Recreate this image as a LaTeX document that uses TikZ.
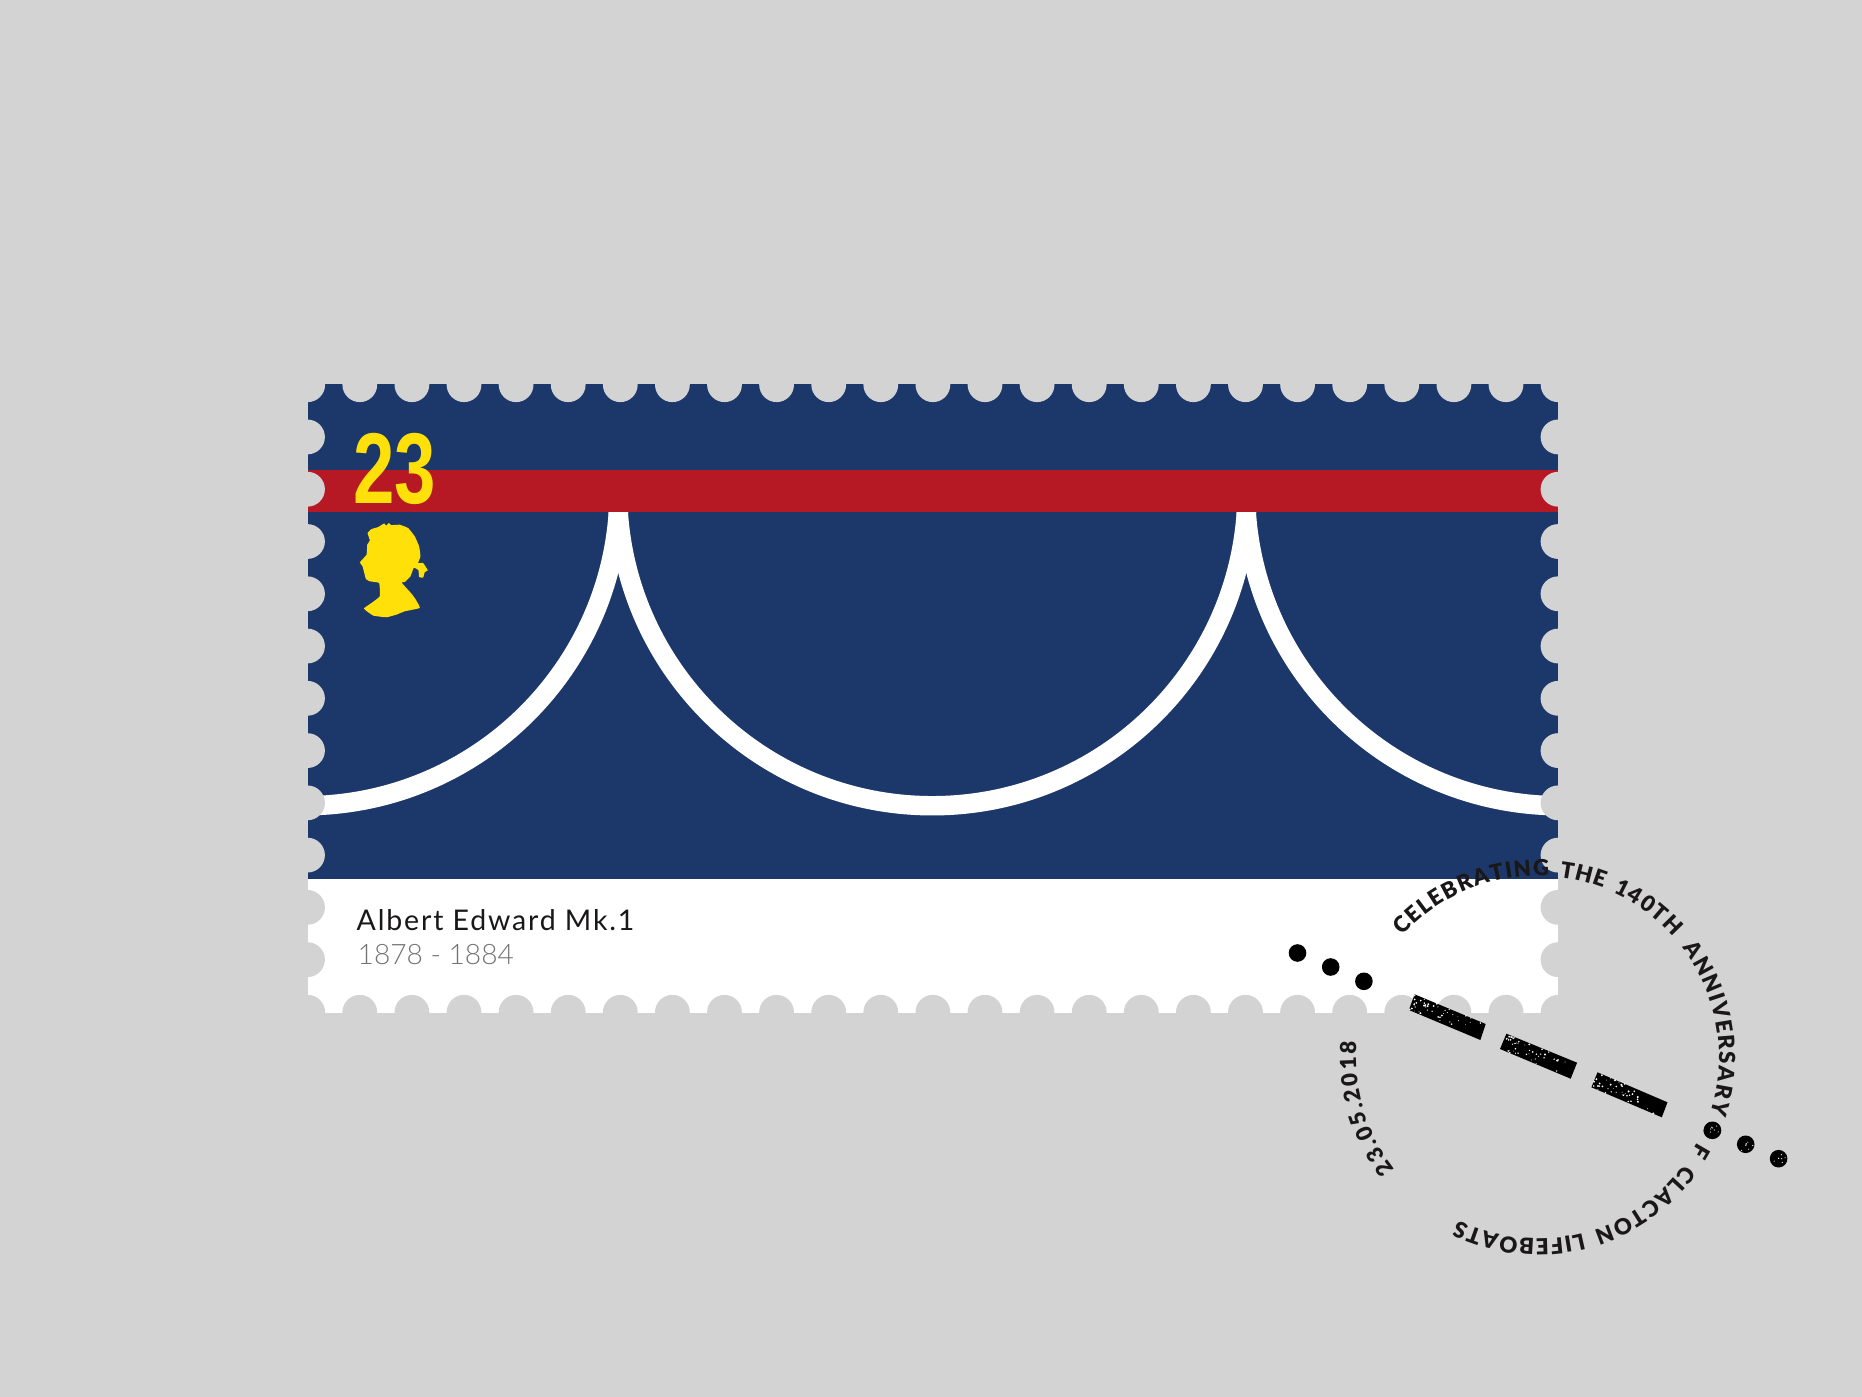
\documentclass[tikz,border=0pt]{standalone}
\usepackage{fontspec}
\setmainfont{Lato}
\newfontfamily\valuefont{Liberation Sans}
\newfontfamily\namefont[LetterSpace=6.5]{Lato}
\newfontfamily\yearsfont{Lato Light}
\newfontfamily\ringfamily{Lato Black}
\usetikzlibrary{decorations.text}
\definecolor{paper}{HTML}{D3D3D3}
\definecolor{navy}{HTML}{1C386B}
\definecolor{stripe}{HTML}{B71924}
\definecolor{royal}{HTML}{FFE009}
\definecolor{ink}{HTML}{1A1718}
\tikzset{
	hole/.style={fill=paper},
	rope/.style={draw=white,line width=5.53pt},
	stampdot/.style={fill=black},
	speck/.style={fill=white},
	ringtext/.style={decorate,decoration={text along path,text align=fit to path,text color=ink,text={#1}}}
}
\newcommand{\ringfont}{\ringfamily\fontsize{6.3}{7}\selectfont}
\begin{document}
\begin{tikzpicture}[x=0.01cm,y=-0.01cm]
	%background
	\fill[paper] (0,0) rectangle (1862,1397);
	
	%stamp body
	\fill[white] (307.5,384) rectangle (1558,1012.7);
	\fill[navy] (307.5,384) rectangle (1558,879.3);
	
	%scallops
	\draw[rope] (619.05,491) arc[start angle=0,end angle=90,radius=314.75];
	\draw[rope] (1247.05,491) arc[start angle=0,end angle=180,radius=314.75];
	\draw[rope] (1245.55,491) arc[start angle=180,end angle=90,radius=314.75];
	
	%red band
	\fill[stripe] (307.5,470) rectangle (1558,512);
	
	%perforations
	\foreach \k in {0,...,24} {
		\fill[hole] ({307.7+52.1*\k},384.7) circle (17.4);
		\fill[hole] ({307.7+52.1*\k},1012.3) circle (17.4);
	}
	\foreach \k in {1,...,11} {
		\fill[hole] (307.5,{384.7+52.27*\k}) circle (17.4);
		\fill[hole] (1558,{384.7+52.27*\k}) circle (17.4);
	}
	
	%value and head
	\node[text=royal,xscale=.74,font=\valuefont\bfseries\fontsize{28.6}{30}\selectfont,inner sep=0pt] (value) at (394.5,469) {23};
	\begin{scope}[shift={(290,370)},x=0.00333cm,y=-0.00333cm]
		\fill[royal] plot[smooth cycle,tension=.2] coordinates {
			(283,461) (289,468) (297,460) (304,466) (330,465) (355,475) (375,500) (388,530)
			(392,560) (385,580) (400,580) (414,602) (405,607) (400,624) (388,622) (386,602)
			(372,594) (362,620) (345,637) (335,638) (345,650) (365,672) (378,690) (390,715)
			(345,725) (320,735) (290,743) (250,738) (222,717) (245,700) (270,680) (268,640)
			(240,635) (228,628) (222,605) (218,590) (210,578) (230,555) (232,525) (240,512)
			(233,490) (245,478) (265,472)};
	\end{scope}
	
	%caption
	\node[anchor=base west,inner sep=0pt,text=ink,font=\namefont\fontsize{8.1}{10}\selectfont] (name) at (356,930) {Albert Edward Mk.1};
	\node[anchor=base west,inner sep=0pt,text=black!55,font=\yearsfont\fontsize{8}{10}\selectfont] (years) at (357,965) {1878 - 1884};
	
	%postmark text
	\path[ringtext={|\ringfont|CELEBRATING}] (1537.5,1057.3) ++(222:181.5) arc[start angle=222,end angle=273.6,radius=181.5];
	\path[ringtext={|\ringfont|THE}] (1537.5,1057.3) ++(277:181.5) arc[start angle=277,end angle=291.3,radius=181.5];
	\path[ringtext={|\ringfont|140TH}] (1537.5,1057.3) ++(294.6:181.5) arc[start angle=294.6,end angle=318.4,radius=181.5];
	\path[ringtext={|\ringfont|ANNIVERSARY}] (1537.5,1057.3) ++(323:181.5) arc[start angle=323,end angle=378,radius=181.5];
	\path[ringtext={|\ringfont|OF}] (1537.5,1057.3) ++(380:181.5) arc[start angle=380,end angle=392,radius=181.5];
	\path[ringtext={|\ringfont|CLACTON}] (1537.5,1057.3) ++(396:181.5) arc[start angle=396,end angle=432,radius=181.5];
	\path[ringtext={|\ringfont|LIFEBOATS}] (1537.5,1057.3) ++(435.5:181.5) arc[start angle=435.5,end angle=476,radius=181.5];
	\path[ringtext={|\ringfont|23.05.2018}] (1537.5,1057.3) ++(142:181.5) arc[start angle=142,end angle=185,radius=181.5];
	
	%cancel dots
	\foreach \px/\py in {1297.5/953,1330.7/967,1363.9/981.3,1712.5/1130.3,1745.7/1144.3,1778.6/1158.7}
		\fill[stampdot] (\px,\py) circle (8.8);
	
	%cancel bars
	\fill[stampdot] (1414.6,994.3) -- (1485.7,1024) -- (1480.4,1040) -- (1408.9,1010) -- cycle;
	\fill[stampdot] (1506.4,1033.7) -- (1577.1,1062.7) -- (1570.7,1078.7) -- (1500,1049) -- cycle;
	\fill[stampdot] (1597.5,1072.3) -- (1667.5,1102.3) -- (1661.8,1117.3) -- (1591.4,1087.3) -- cycle;
	
	%wear
	\pgfmathsetseed{23}
	\foreach \ax/\ay/\ux/\uy/\vx/\vy in {1414.6/994.3/71.1/29.7/-5.7/15.7,1506.4/1033.7/70.7/29/-6.4/15.3,1597.5/1072.3/70/30/-6.1/15}
		\foreach \n in {1,...,44} {
			\pgfmathsetmacro{\su}{rnd*(.3+.7*rnd)}
			\pgfmathsetmacro{\sv}{rnd}
			\pgfmathsetmacro{\sr}{.35+.75*rnd}
			\fill[speck] ({\ax+\su*\ux+\sv*\vx},{\ay+\su*\uy+\sv*\vy}) circle (\sr);
		}
	\foreach \px/\py in {1712.5/1130.3,1745.7/1144.3,1778.6/1158.7}
		\foreach \n in {1,...,7} {
			\pgfmathsetmacro{\sa}{360*rnd}
			\pgfmathsetmacro{\sd}{8*rnd}
			\fill[speck] (\px,\py) ++(\sa:\sd) circle (.6);
		}
\end{tikzpicture}
\end{document}
